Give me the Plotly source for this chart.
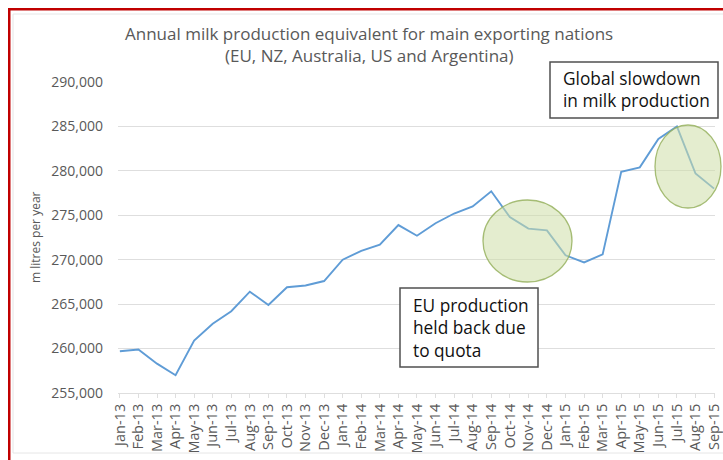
import plotly.graph_objects as go

# Monthly annual-equivalent milk production, m litres per year
months = [
    "Jan-13", "Feb-13", "Mar-13", "Apr-13", "May-13", "Jun-13", "Jul-13", "Aug-13",
    "Sep-13", "Oct-13", "Nov-13", "Dec-13", "Jan-14", "Feb-14", "Mar-14", "Apr-14",
    "May-14", "Jun-14", "Jul-14", "Aug-14", "Sep-14", "Oct-14", "Nov-14", "Dec-14",
    "Jan-15", "Feb-15", "Mar-15", "Apr-15", "May-15", "Jun-15", "Jul-15", "Aug-15",
    "Sep-15",
]
production = [
    259700, 259900, 258300, 257000, 260900, 262800, 264200, 266400,
    264900, 266900, 267100, 267600, 270000, 271000, 271700, 273900,
    272700, 274100, 275200, 276000, 277700, 274800, 273500, 273300,
    270500, 269700, 270600, 279900, 280400, 283600, 285000, 279700,
    278000,
]
y_ticks = [255000, 260000, 265000, 270000, 275000, 280000, 285000, 290000]

# Page geometry (pixels) and plot margins
W, H = 723, 460
L, R, T, B = 118, 8, 82, 67
PW = W - L - R
PH = H - T - B


def px(x):
    """Pixel column -> paper x."""
    return (x - L) / PW


def py(y):
    """Pixel row -> paper y."""
    return (H - B - y) / PH


GREY_TEXT = "#595959"
GRID = "#dedede"
FONT = "Open Sans"

fig = go.Figure()
fig.add_trace(go.Scatter(
    x=months,
    y=production,
    mode="lines",
    line=dict(color="#5f9cd6", width=1.9),
    hoverinfo="x+y",
    showlegend=False,
))

fig.update_layout(
    width=W,
    height=H,
    autosize=False,
    margin=dict(l=L, r=R, t=T, b=B, pad=0),
    paper_bgcolor="white",
    plot_bgcolor="white",
    font=dict(family=FONT, color=GREY_TEXT),
    xaxis=dict(
        type="category",
        automargin=False,
        range=[-0.1, len(months) - 1 + 0.05],
        tickangle=-90,
        tickfont=dict(size=14.5, color=GREY_TEXT),
        ticks="outside",
        ticklen=4,
        tickcolor=GRID,
        showgrid=False,
        showline=True,
        linecolor=GRID,
        linewidth=1,
        zeroline=False,
        fixedrange=True,
    ),
    yaxis=dict(
        automargin=False,
        range=[255000, 290000],
        tickvals=y_ticks,
        tickformat=",d",
        tickfont=dict(size=14, color=GREY_TEXT),
        ticks="",
        ticklabelstandoff=14,
        showgrid=True,
        gridcolor=GRID,
        gridwidth=1,
        showline=False,
        zeroline=False,
        fixedrange=True,
    ),
)

# Chart title (two lines)
for text, row in [
    ("Annual milk production equivalent for main exporting nations", 33),
    ("(EU, NZ, Australia, US and Argentina)", 56),
]:
    fig.add_annotation(
        text=text, xref="paper", yref="paper", x=px(369), y=py(row),
        xanchor="center", yanchor="middle", showarrow=False,
        font=dict(size=17, color=GREY_TEXT, family=FONT),
    )

# Y axis title
fig.add_annotation(
    text="m litres per year", xref="paper", yref="paper", x=px(35), y=py(237),
    xanchor="center", yanchor="middle", textangle=-90, showarrow=False,
    font=dict(size=12, color=GREY_TEXT, family=FONT),
)

# Highlight ellipses
ellipse_fill = "rgba(206,222,168,0.55)"
ellipse_line = "rgba(150,178,95,0.85)"
for x0, y0, x1, y1 in [(483, 200, 572, 282), (655, 125, 721, 208)]:
    fig.add_shape(
        type="circle", xref="paper", yref="paper",
        x0=px(x0), x1=px(x1), y0=py(y1), y1=py(y0),
        fillcolor=ellipse_fill, line=dict(color=ellipse_line, width=1.3),
        layer="above",
    )

# Callout boxes (left, top, right, bottom in pixels) with left-aligned text
callouts = [
    ("Global slowdown<br>in milk production", 550, 62, 718, 118),
    ("EU production<br>held back due<br>to quota", 400, 288, 538, 367),
]
for text, x0, y0, x1, y1 in callouts:
    fig.add_shape(
        type="rect", xref="paper", yref="paper",
        x0=px(x0), x1=px(x1), y0=py(y1), y1=py(y0),
        fillcolor="white", line=dict(color="#505050", width=1.5),
        layer="above",
    )
    fig.add_annotation(
        text=text, xref="paper", yref="paper",
        x=px(x0 + 11), y=py((y0 + y1) / 2),
        xanchor="left", yanchor="middle", showarrow=False,
        align="left",
        font=dict(size=17.3, color="#111111", family=FONT),
    )

# Light inner frame; its right and bottom edges run past the page edge
fig.add_shape(type="rect", xref="paper", yref="paper",
              x0=px(13), x1=px(W + 40), y0=py(453), y1=py(14),
              line=dict(color="#e6e6e6", width=1), fillcolor="rgba(0,0,0,0)",
              layer="below")
# Red outer frame; only its top and left edges fall inside the page
fig.add_shape(type="rect", xref="paper", yref="paper",
              x0=px(9.25), x1=px(W + 60), y0=py(H + 60), y1=py(9.25),
              line=dict(color="#c00000", width=2.5), fillcolor="rgba(0,0,0,0)",
              layer="above")

fig.write_html("out.html", config={"displayModeBar": False})
